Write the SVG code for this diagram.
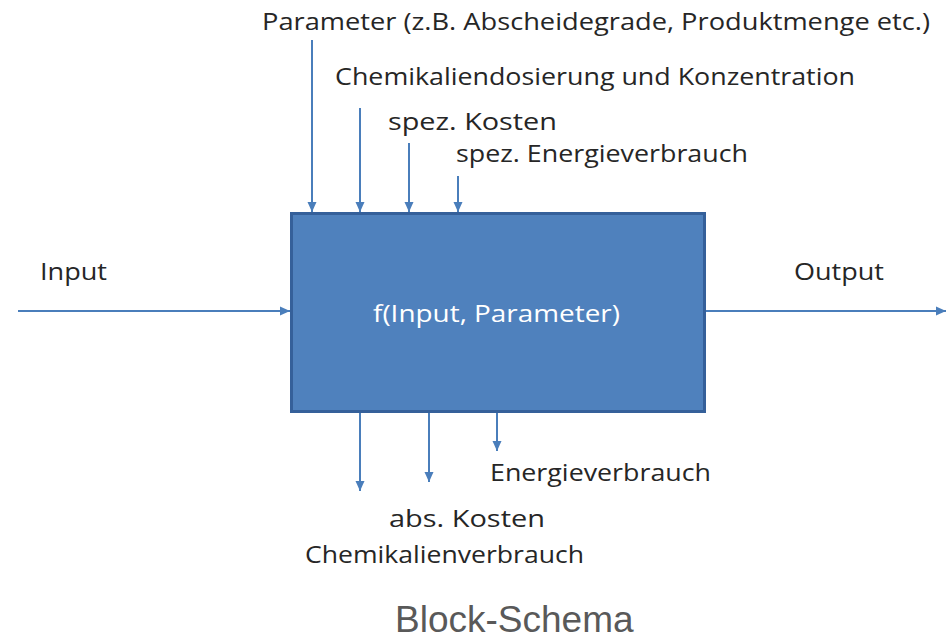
<svg xmlns="http://www.w3.org/2000/svg" width="950" height="642" viewBox="0 0 950 642">
  <style>
    .lbl { font-family: "Open Sans", "Noto Sans", sans-serif; font-size: 24px; fill: #262626; }
    .inner { font-family: "Open Sans", "Noto Sans", sans-serif; font-size: 24px; fill: #ffffff; }
    .title { font-family: "Liberation Sans", Arial, sans-serif; font-size: 37px; fill: #595959; }
    .conn { stroke: #4a7ebb; stroke-width: 2; fill: none; marker-end: url(#arrow); }
  </style>
  <defs>
    <marker id="arrow" markerUnits="userSpaceOnUse" markerWidth="12" markerHeight="12" viewBox="0 0 12 12" refX="11" refY="6" orient="auto">
      <path d="M1,1.5 L11,6 L1,10.5 Z" fill="#4a7ebb"/>
    </marker>
  </defs>
  <rect width="950" height="642" fill="#ffffff"/>

  <!-- process block -->
  <g id="block">
    <rect x="291.5" y="213.5" width="413" height="198" fill="#4f81bd" stroke="#35609a" stroke-width="3"/>
    <text class="inner" x="373" y="322" textLength="247" lengthAdjust="spacingAndGlyphs">f(Input, Parameter)</text>
  </g>

  <!-- connectors -->
  <g id="connectors">
    <line class="conn" x1="312" y1="40" x2="312" y2="212"/>
    <line class="conn" x1="360" y1="108" x2="360" y2="212"/>
    <line class="conn" x1="409" y1="143" x2="409" y2="212"/>
    <line class="conn" x1="458" y1="176" x2="458" y2="212"/>
    <line class="conn" x1="360" y1="413" x2="360" y2="491"/>
    <line class="conn" x1="429" y1="413" x2="429" y2="482"/>
    <line class="conn" x1="497" y1="413" x2="497" y2="451"/>
    <line class="conn" x1="18" y1="311" x2="290" y2="311"/>
    <line class="conn" x1="706" y1="311" x2="946" y2="311"/>
  </g>

  <!-- input parameters -->
  <g id="param-general">
    <text class="lbl" x="262" y="30" textLength="668" lengthAdjust="spacingAndGlyphs">Parameter (z.B. Abscheidegrade, Produktmenge etc.)</text>
  </g>
  <g id="param-chemicals">
    <text class="lbl" x="335" y="85" textLength="520" lengthAdjust="spacingAndGlyphs">Chemikaliendosierung und Konzentration</text>
  </g>
  <g id="param-cost">
    <text class="lbl" x="388" y="130" textLength="169" lengthAdjust="spacingAndGlyphs">spez. Kosten</text>
  </g>
  <g id="param-energy">
    <text class="lbl" x="456" y="162" textLength="292" lengthAdjust="spacingAndGlyphs">spez. Energieverbrauch</text>
  </g>

  <!-- main flow -->
  <g id="input">
    <text class="lbl" x="40" y="280" textLength="67" lengthAdjust="spacingAndGlyphs">Input</text>
  </g>
  <g id="output">
    <text class="lbl" x="794" y="280" textLength="90" lengthAdjust="spacingAndGlyphs">Output</text>
  </g>

  <!-- results -->
  <g id="res-energy">
    <text class="lbl" x="490" y="481" textLength="221" lengthAdjust="spacingAndGlyphs">Energieverbrauch</text>
  </g>
  <g id="res-cost">
    <text class="lbl" x="389" y="527" textLength="156" lengthAdjust="spacingAndGlyphs">abs. Kosten</text>
  </g>
  <g id="res-chemicals">
    <text class="lbl" x="305" y="563" textLength="279" lengthAdjust="spacingAndGlyphs">Chemikalienverbrauch</text>
  </g>

  <text class="title" x="395" y="632">Block-Schema</text>
</svg>
